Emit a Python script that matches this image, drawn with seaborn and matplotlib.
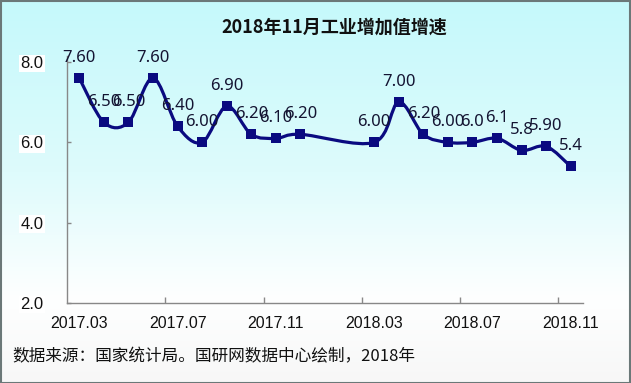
import numpy as np
import matplotlib
matplotlib.use("Agg")
import matplotlib.pyplot as plt
from matplotlib.path import Path
from matplotlib.patches import PathPatch, Rectangle
import seaborn as sns

# ---- data ----
axis_months = ["2017.03", "2017.04", "2017.05", "2017.06", "2017.07", "2017.08", "2017.09",
               "2017.10", "2017.11", "2017.12", "2018.01", "2018.02", "2018.03", "2018.04",
               "2018.05", "2018.06", "2018.07", "2018.08", "2018.09", "2018.10", "2018.11"]
months = ["2017.03", "2017.04", "2017.05", "2017.06", "2017.07", "2017.08", "2017.09",
          "2017.10", "2017.11", "2017.12", "2018.03", "2018.04", "2018.05", "2018.06",
          "2018.07", "2018.08", "2018.09", "2018.10", "2018.11"]
values = [7.6, 6.5, 6.5, 7.6, 6.4, 6.0, 6.9, 6.2, 6.1, 6.2, 6.0, 7.0, 6.2, 6.0, 6.0, 6.1, 5.8, 5.9, 5.4]
value_labels = ["7.60", "6.50", "6.50", "7.60", "6.40", "6.00", "6.90", "6.20", "6.10", "6.20",
                "6.00", "7.00", "6.20", "6.00", "6.0", "6.1", "5.8", "5.90", "5.4"]
tick_labels = ["2017.03", "2017.07", "2017.11", "2018.03", "2018.07", "2018.11"]
y_ticks = [2.0, 4.0, 6.0, 8.0]
title = "2018年11月工业增加值增速"
source = "数据来源：国家统计局。国研网数据中心绘制，2018年"

sns.set_theme(style="white")
plt.rcParams["font.family"] = ["Liberation Sans", "Noto Sans CJK SC", "DejaVu Sans"]

W, H = 631, 383
fig = plt.figure(figsize=(W / 100, H / 100), dpi=100)

# background gradient
bg = fig.add_axes([0, 0, 1, 1], zorder=-10)
stops = np.array([0.0, 0.45, 0.78, 1.0])
cols = np.array([[197, 249, 251], [222, 251, 252], [254, 255, 255], [247, 247, 247]]) / 255.0
yy = np.linspace(0, 1, 400)
grad = np.stack([np.interp(yy, stops, cols[:, c]) for c in range(3)], axis=1)
bg.imshow(grad[:, None, :], aspect="auto", extent=[0, 1, 0, 1], origin="upper")
bg.set_xlim(0, 1); bg.set_ylim(0, 1)
bg.axis("off")

navy = "#0a0a80"
ax = fig.add_axes([67 / W, 1 - 303 / H, (583 - 67) / W, (303 - 56) / H])
ax.set_facecolor("none")

pos = [axis_months.index(m) for m in months]
x = np.array(pos, dtype=float)
y = np.array(values, dtype=float)

# smoothed line (Catmull-Rom style bezier, like Excel's smoothed line)
verts = [(x[0], y[0])]
codes = [Path.MOVETO]
n = len(x)
for i in range(n - 1):
    p0 = np.array([x[max(i - 1, 0)], y[max(i - 1, 0)]])
    p1 = np.array([x[i], y[i]])
    p2 = np.array([x[i + 1], y[i + 1]])
    p3 = np.array([x[min(i + 2, n - 1)], y[min(i + 2, n - 1)]])
    c1 = p1 + (p2 - p0) / 6.0
    c2 = p2 - (p3 - p1) / 6.0
    verts += [tuple(c1), tuple(c2), tuple(p2)]
    codes += [Path.CURVE4] * 3
ax.add_patch(PathPatch(Path(verts, codes), facecolor="none", edgecolor=navy, lw=2.3,
                       zorder=3, capstyle="round", joinstyle="round"))

sns.scatterplot(x=x, y=y, marker="s", s=52, color=navy, edgecolor="none", ax=ax, zorder=4)

for xi, yi, lab in zip(x, y, value_labels):
    ax.annotate(lab, (xi, yi), xytext=(0, 14.5), textcoords="offset points",
                ha="center", va="center", fontsize=12, color="#141432",
                family=["Noto Sans", "DejaVu Sans"], zorder=5)

ax.set_xlim(-0.5, len(axis_months) - 0.5)
ax.set_ylim(2.0, 8.15)

ax.set_xticks([axis_months.index(t) for t in tick_labels])
ax.set_xticklabels(tick_labels, fontsize=11.5, color="#111111")
ax.set_xticks([3.5, 7.5, 11.5, 15.5, 19.5], minor=True)
ax.tick_params(axis="x", which="major", length=0, pad=9)
ax.tick_params(axis="x", which="minor", direction="in", length=4, width=1, color="#888888", bottom=True)

ax.set_yticks(y_ticks)
ax.set_yticklabels([f"{v:.1f}" for v in y_ticks], fontsize=12, color="#111111")
ax.tick_params(axis="y", which="major", direction="in", length=3, width=1, color="#888888", pad=17, left=True)
for t in ax.get_yticklabels():
    t.set_bbox(dict(facecolor="white", edgecolor="none", pad=1.0))

for s in ["top", "right"]:
    ax.spines[s].set_visible(False)
for s in ["left", "bottom"]:
    ax.spines[s].set_color("#888888")
    ax.spines[s].set_linewidth(1.0)
ax.set_xlabel(""); ax.set_ylabel("")

fig.text(334 / W, 1 - 27 / H, title, ha="center", va="center", fontsize=13, fontweight="bold",
         family=["Noto Sans CJK SC", "DejaVu Sans"], color="#111111")
fig.text(12 / W, 1 - 357 / H, source, ha="left", va="center", fontsize=12,
         family=["Noto Sans CJK SC", "DejaVu Sans"], color="#111111")

fig.patches.append(Rectangle((0.5 / W, 0.5 / H), 1 - 1.5 / W, 1 - 1.5 / H, transform=fig.transFigure,
                             fill=False, edgecolor="#6b7878", lw=1.5, zorder=20))

fig.savefig("out.png", dpi=100)
